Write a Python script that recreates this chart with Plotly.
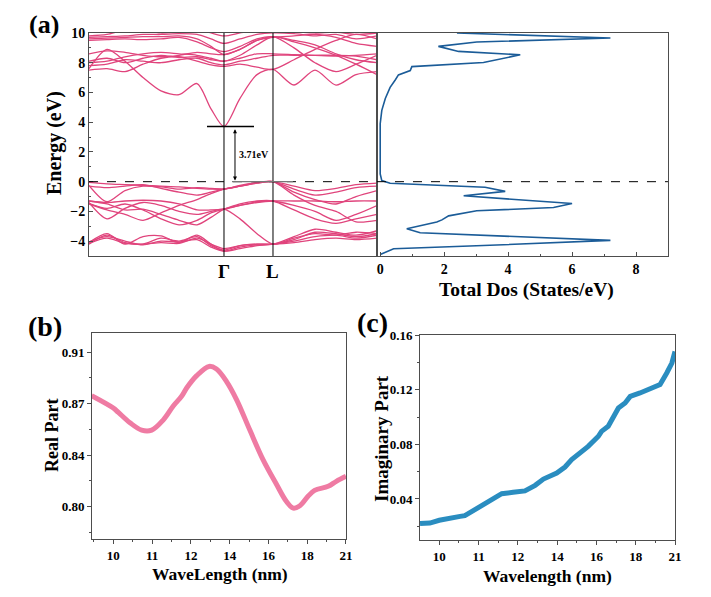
import plotly.graph_objects as go

# ---------------- data ----------------
# k-path positions (arbitrary units), Gamma and L points
k_grid = [0.0, 0.18, 0.36, 0.54, 0.72, 0.90, 1.08, 1.22, 1.35, 1.51, 1.68, 1.84, 2.05, 2.26, 2.47, 2.67, 2.88]
k_gamma = 1.35
k_L = 1.84
k_end = 2.88

# band energies (eV) at k_grid
bands = [
    # conduction bands
    [7.6, 8.9, 8.1, 7.0, 6.1, 5.85, 6.6, 4.9, 3.71, 5.6, 7.2, 7.55, 6.5, 7.5, 6.5, 7.2, 7.4],
    [7.5, 7.6, 7.4, 7.9, 8.3, 8.4, 8.1, 7.85, 7.75, 7.9, 7.7, 7.55, 8.2, 8.9, 9.5, 9.9, 9.6],
    [7.8, 7.9, 8.2, 8.1, 8.0, 8.2, 8.3, 8.0, 7.85, 8.1, 8.3, 8.5, 8.5, 8.5, 8.5, 8.45, 8.2],
    [8.1, 8.3, 8.0, 8.3, 8.5, 8.35, 8.4, 8.2, 8.1, 8.3, 8.6, 8.6, 8.55, 8.5, 8.45, 8.5, 8.6],
    [8.6, 8.8, 8.7, 8.5, 8.4, 8.5, 8.7, 8.6, 8.55, 8.9, 9.5, 9.75, 9.0, 8.0, 7.4, 7.9, 8.5],
    [9.5, 9.55, 9.6, 9.55, 9.6, 9.7, 9.4, 9.0, 8.75, 9.1, 9.6, 9.75, 9.5, 9.2, 8.6, 8.2, 8.0],
    [9.6, 9.65, 9.7, 9.75, 9.75, 9.8, 9.6, 9.1, 8.55, 8.9, 9.5, 9.7, 9.8, 9.9, 9.7, 9.3, 9.1],
    [9.7, 9.75, 9.8, 9.9, 9.9, 9.95, 9.9, 9.6, 9.3, 9.6, 9.9, 10.0, 9.95, 9.8, 9.9, 9.6, 9.8],
    [9.8, 9.9, 10.2, 10.2, 10.0, 10.1, 10.3, 10.0, 9.8, 10.0, 10.2, 10.3, 10.1, 10.0, 10.05, 9.9, 10.0],
    [8.0, 8.1, 8.4, 8.6, 8.7, 8.6, 8.5, 8.3, 8.1, 8.5, 9.2, 9.75, 9.4, 9.0, 8.5, 7.9, 7.2],
    # valence bands
    [-0.05, -0.15, -0.2, -0.25, -0.3, -0.35, -0.45, -0.5, -0.5, -0.3, -0.05, 0.0, -0.3, -0.6, -0.45, -0.2, -0.1],
    [-0.25, -1.35, -0.6, -0.3, -0.35, -0.5, -0.4, -0.45, -0.5, -0.25, -0.05, 0.0, -0.5, -0.9, -0.7, -0.4, -0.3],
    [-0.3, -0.4, -0.3, -0.2, -0.45, -0.7, -0.9, -0.7, -0.5, -0.3, -0.1, 0.0, -0.7, -1.2, -1.5, -1.0, -0.6],
    [-1.3, -1.4, -1.3, -1.25, -1.3, -1.5, -1.9, -1.9, -1.85, -1.6, -1.4, -1.3, -1.3, -1.3, -1.35, -1.3, -1.3],
    [-1.4, -2.5, -1.8, -1.4, -1.6, -2.0, -2.2, -2.0, -1.85, -2.5, -3.5, -4.2, -3.8, -3.5, -3.6, -3.4, -3.5],
    [-1.3, -1.5, -1.9, -1.85, -2.2, -2.6, -2.9, -2.4, -1.85, -1.6, -1.35, -1.3, -1.6, -2.0, -2.6, -2.2, -1.6],
    [-1.45, -1.8, -1.5, -1.9, -2.5, -2.9, -2.6, -2.1, -1.85, -1.5, -1.3, -1.3, -1.9, -2.5, -2.8, -2.5, -2.2],
    [-1.5, -1.9, -2.2, -2.6, -2.1, -1.6, -1.2, -0.8, -0.5, -0.3, -0.1, 0.0, -0.9, -1.6, -2.0, -2.7, -2.6],
    [-4.1, -3.5, -4.2, -3.7, -3.65, -4.1, -3.6, -4.2, -4.67, -4.5, -4.3, -4.2, -3.7, -3.2, -3.4, -3.6, -3.3],
    [-4.2, -3.6, -4.1, -4.2, -3.8, -4.0, -3.7, -4.3, -4.6, -4.3, -4.2, -4.2, -3.9, -3.4, -3.5, -3.7, -3.5],
    [-4.05, -3.7, -4.0, -4.25, -4.0, -4.05, -3.9, -4.4, -4.67, -4.4, -4.25, -4.2, -4.0, -3.7, -3.6, -3.8, -3.6],
    [-4.15, -3.8, -4.15, -4.2, -4.1, -4.15, -3.8, -4.2, -4.5, -4.3, -4.2, -4.2, -4.1, -3.9, -3.8, -3.9, -3.8],
]

band_gap = 3.71

# total DOS (states/eV) vs energy (eV)
dos_values = [0.0, 0.42, 2.8, 7.2, 1.25, 0.83, 1.77, 1.93, 2.14, 3.02, 5.42, 6.0, 2.61, 3.91, 3.28, 0.31,
              0.05, 0.0, 0.0, 0.05, 0.16, 0.31, 0.47, 0.57, 0.94, 0.99, 3.23, 4.38, 2.45, 1.82, 3.02, 7.2, 2.4]
dos_energy = [-4.90, -4.51, -4.33, -3.95, -3.43, -3.16, -2.71, -2.57, -2.30, -1.96, -1.74, -1.47, -0.95, -0.65, -0.38, -0.11,
              0.07, 0.52, 3.9, 4.8, 5.6, 6.34, 6.84, 7.18, 7.47, 7.74, 8.01, 8.53, 8.76, 9.10, 9.39, 9.66, 10.0]

# wavelength tick labels (equally spaced on the axis)
wl_ticktext = ["10", "11", "12", "14", "16", "18", "21"]
wl_tickpos = [0, 1, 2, 3, 4, 5, 6]

# (b) real part
real_pos = [-0.56, 0.0, 0.13, 0.43, 0.73, 0.99, 1.29, 1.55, 1.76, 1.89, 2.15, 2.47, 2.66, 2.92, 3.18,
            3.52, 3.86, 4.21, 4.46, 4.64, 4.81, 5.02, 5.19, 5.54, 5.75, 6.0]
real_part = [0.8754, 0.867, 0.864, 0.857, 0.852, 0.852, 0.859, 0.8686, 0.875, 0.8806, 0.889, 0.8953, 0.8935,
             0.885, 0.8726, 0.852, 0.8319, 0.815, 0.8036, 0.799, 0.8006, 0.807, 0.811, 0.8138, 0.8172, 0.8206]
real_tickvals = [0.80, 0.835, 0.87, 0.905]
real_ticktext = ["0.80", "0.84", "0.87", "0.91"]

# (c) imaginary part
imag_pos = [-0.49, -0.24, 0.0, 0.27, 0.53, 0.65, 0.95, 1.29, 1.59, 1.88, 2.18, 2.44, 2.65, 2.99, 3.20, 3.37,
            3.58, 3.79, 4.05, 4.13, 4.30, 4.43, 4.56, 4.73, 4.86, 5.11, 5.37, 5.62, 5.79, 5.92, 6.0]
imag_part = [0.022, 0.0224, 0.0244, 0.0263, 0.0273, 0.0278, 0.0327, 0.0383, 0.0439, 0.0449, 0.0459, 0.050,
             0.0546, 0.059, 0.0634, 0.0688, 0.0732, 0.0785, 0.0859, 0.0895, 0.0932, 0.0993, 0.1066, 0.1102,
             0.1151, 0.1176, 0.1205, 0.1237, 0.1322, 0.1395, 0.148]

# ---------------- figure ----------------
SERIF = "Liberation Serif, Times New Roman, serif"
BAND_COLOR = "#E0447C"
AX_COLOR = "#4d4d4d"

fig = go.Figure()

for e in bands:
    fig.add_trace(go.Scatter(x=k_grid, y=e, mode="lines", line=dict(color=BAND_COLOR, width=1.3, shape="spline", smoothing=0.8),
                             xaxis="x", yaxis="y", showlegend=False, hoverinfo="skip"))

fig.add_trace(go.Scatter(x=dos_values, y=dos_energy, mode="lines", line=dict(color="#1B5C98", width=1.6),
                         xaxis="x2", yaxis="y2", showlegend=False))

fig.add_trace(go.Scatter(x=real_pos, y=real_part, mode="lines", line=dict(color="#EF7BA3", width=5, shape="spline"),
                         xaxis="x3", yaxis="y3", showlegend=False))

fig.add_trace(go.Scatter(x=imag_pos, y=imag_part, mode="lines", line=dict(color="#2A8DC0", width=5),
                         xaxis="x4", yaxis="y4", showlegend=False))

tickfont = dict(family=SERIF, size=14, color="black", weight="bold")
smallfont = dict(family=SERIF, size=13, color="black", weight="bold")
common = dict(showline=True, linecolor=AX_COLOR, linewidth=1, mirror=True, showgrid=False, zeroline=False,
              ticks="inside", tickcolor=AX_COLOR, ticklen=4, automargin=False)
outer = dict(common, ticks="outside")
plain = dict(showline=True, linecolor=AX_COLOR, linewidth=1, mirror=True, showgrid=False, zeroline=False,
             ticks="", showticklabels=False, automargin=False)

# the page body adds an 8px offset, so the figure is 703x589
fig.update_layout(
    width=703, height=589, paper_bgcolor="white", plot_bgcolor="white",
    margin=dict(l=0, r=0, t=0, b=0),
    xaxis=dict(domain=[0.1152, 0.5249], range=[0, k_end], **plain),
    yaxis=dict(domain=[0.5789, 0.9576], range=[-5, 10], dtick=2, tickfont=tickfont,
               minor=dict(ticks="inside", dtick=1, ticklen=2, tickcolor=AX_COLOR), **common),
    xaxis2=dict(domain=[0.5249, 0.9388], range=[-0.1, 9], dtick=2, tickfont=tickfont, anchor="y2",
                minor=dict(ticks="inside", dtick=1, ticklen=2, tickcolor=AX_COLOR), **common),
    yaxis2=dict(domain=[0.5789, 0.9576], range=[-5, 10], anchor="x2", **plain),
    xaxis3=dict(domain=[0.1195, 0.4808], range=[-0.55, 6], anchor="y3", tickvals=wl_tickpos, ticktext=wl_ticktext,
                tickfont=smallfont, minor=dict(ticks="outside", dtick=0.5, ticklen=2, tickcolor=AX_COLOR), **outer),
    yaxis3=dict(domain=[0.0985, 0.4482], range=[0.778, 0.918], anchor="x3", tickvals=real_tickvals, ticktext=real_ticktext,
                tickfont=smallfont, minor=dict(ticks="outside", tickvals=[0.7825, 0.8175, 0.8525, 0.8875], ticklen=2,
                                               tickcolor=AX_COLOR), **outer),
    xaxis4=dict(domain=[0.5861, 0.9488], range=[-0.49, 6], anchor="y4", tickvals=wl_tickpos, ticktext=wl_ticktext,
                tickfont=smallfont, minor=dict(ticks="outside", dtick=0.5, ticklen=2, tickcolor=AX_COLOR), **outer),
    yaxis4=dict(domain=[0.0968, 0.4448], range=[0.010, 0.160], anchor="x4", dtick=0.04, tickformat=".2f",
                tickfont=smallfont, minor=dict(ticks="outside", dtick=0.02, ticklen=2, tickcolor=AX_COLOR), **outer),
)

# high-symmetry lines, Fermi level, gap marks
shapes = [
    dict(type="line", xref="x", yref="y", x0=k_gamma, x1=k_gamma, y0=-5, y1=10, line=dict(color="black", width=1)),
    dict(type="line", xref="x", yref="y", x0=k_L, x1=k_L, y0=-5, y1=10, line=dict(color="black", width=1)),
    dict(type="line", xref="paper", yref="y", x0=0.1152, x1=0.9388, y0=0, y1=0, line=dict(color="black", width=1, dash="dash")),
    dict(type="line", xref="x", yref="y", x0=1.18, x1=1.65, y0=band_gap, y1=band_gap, line=dict(color="black", width=1.3)),
    dict(type="line", xref="x", yref="y", x0=1.43, x1=2.04, y0=0, y1=0, line=dict(color="#777777", width=1.3)),
]
fig.update_layout(shapes=shapes)

def label(text, x, y, size, angle=0, xref="paper", yref="paper", yanchor="middle"):
    fig.add_annotation(text=text, x=x, y=y, xref=xref, yref=yref, showarrow=False, textangle=angle,
                       xanchor="center", yanchor=yanchor,
                       font=dict(family=SERIF, size=size, color="black", weight="bold"))

fig.add_annotation(x=1.46, y=0.08, ax=1.46, ay=band_gap - 0.08, xref="x", yref="y", axref="x", ayref="y",
                   text="", showarrow=True, arrowhead=2, arrowside="end+start", arrowsize=0.8, arrowwidth=1,
                   arrowcolor="black")
label("3.71eV", 1.65, 1.85, 10, xref="x", yref="y")

label("(a)", 0.0512, 1.0, 26, yanchor="top")
label("Energy (eV)", 0.0669, 0.7708, 20, angle=-90)
label("Γ", k_gamma, 0.5518, 19, xref="x")
label("L", k_L, 0.5518, 19, xref="x")
label("Total Dos (States/eV)", 0.7376, 0.5212, 19.5)
label("(b)", 0.0526, 0.460, 28)
label("Real Part", 0.0626, 0.2733, 18, angle=-90)
label("WaveLength (nm)", 0.3009, 0.039, 17.5)
label("(c)", 0.5178, 0.4652, 28)
label("Imaginary Part", 0.532, 0.270, 19, angle=-90)
label("Wavelength (nm)", 0.767, 0.0357, 17.5)

fig.write_html("out.html")
